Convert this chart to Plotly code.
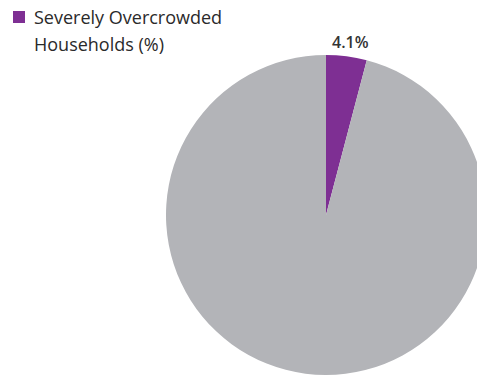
import plotly.graph_objects as go

labels = ["Severely Overcrowded Households (%)", "Other Households (%)"]
values = [4.1, 95.9]
slice_text = ["4.1%", ""]
colors = ["#7E2F93", "#B3B4B8"]
legend_line1 = "Severely Overcrowded"
legend_line2 = "Households (%)"

W, H = 660, 375
fig = go.Figure()
fig.add_trace(go.Pie(
    labels=labels,
    values=values,
    textinfo="none",
    marker=dict(colors=colors, line=dict(width=0)),
    sort=False,
    direction="clockwise",
    rotation=0,
    showlegend=False,
    hoverinfo="skip",
    domain=dict(x=[166 / W, 486 / W], y=[0, 1 - 55 / H]),
))

# slice value label placed outside the purple slice
fig.add_annotation(text=slice_text[0], xref="paper", yref="paper",
                   x=350 / W, y=1 - 41.5 / H, xanchor="center", yanchor="middle",
                   showarrow=False,
                   font=dict(family="Open Sans", size=16, color="#333333", weight=600))

fig.add_shape(type="rect", xref="paper", yref="paper",
              x0=13 / W, x1=25 / W, y0=1 - 23 / H, y1=1 - 11 / H,
              fillcolor=colors[0], line=dict(width=0))
fig.add_annotation(text=legend_line1, xref="paper", yref="paper",
                   x=32 / W, y=1 - 3 / H, xanchor="left", yanchor="top",
                   showarrow=False, font=dict(family="Open Sans", size=18, color="#2a2a2a", weight=500))
fig.add_annotation(text=legend_line2, xref="paper", yref="paper",
                   x=32 / W, y=1 - 30 / H, xanchor="left", yanchor="top",
                   showarrow=False, font=dict(family="Open Sans", size=18, color="#2a2a2a", weight=500))

fig.update_layout(
    width=W, height=H,
    margin=dict(l=0, r=0, t=0, b=0),
    paper_bgcolor="white", plot_bgcolor="white",
)

fig.write_html("out.html", post_script="document.body.style.overflow='hidden';document.body.style.margin='0';")
